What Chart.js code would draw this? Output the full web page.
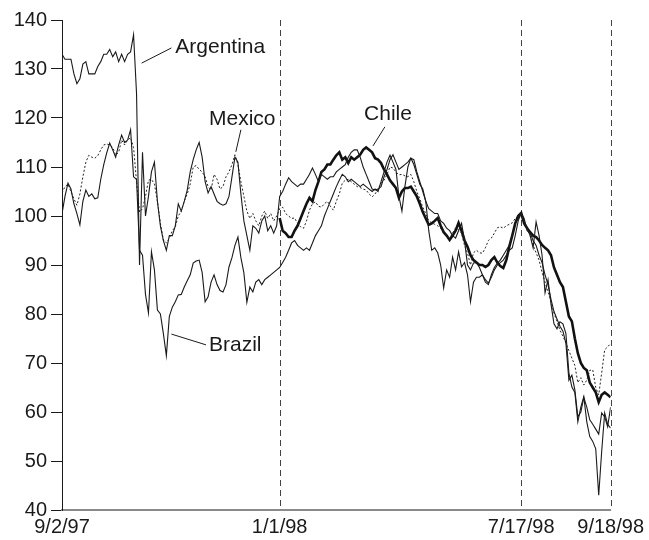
<!DOCTYPE html>
<html>
<head>
<meta charset="utf-8">
<script src="https://cdn.jsdelivr.net/npm/chart.js@4.4.0/dist/chart.umd.min.js"></script>
<style>
  body { margin: 0; background: #fff; }
  #wrap { width: 649px; height: 540px; }
</style>
</head>
<body>
<div id="wrap"><canvas id="chart" width="649" height="540"></canvas></div>
<script>
// trading-day index of each dated marker, and its label
const dateIdx = [0, 73, 154, 184];
const dateLabels = ['9/2/97', '1/1/98', '7/17/98', '9/18/98'];
const yTicks = [40, 50, 60, 70, 80, 90, 100, 110, 120, 130, 140];

// stock indices, 7/17/98 = 100
const argentina = [
  133, 132, 132, 132, 129, 127, 128, 131, 131.5, 129, 129, 129, 130.5, 131.5, 133, 133, 134, 132.5, 133.5, 131.5, 133, 131.5, 133, 133.5, 137,
  125, 90, 113, 100, 104, 109, 111, 103, 98, 95, 93, 96, 96, 98, 102.5, 101, 103, 105.3, 109, 111.5, 113.5, 115, 112, 107, 104.7, 106, 104.5, 103, 102.5, 102.2,
  102.5, 104, 108, 112, 111, 104.5, 99, 96, 93, 98, 97.5, 96.5, 99, 100, 97, 98, 96.5, 98,
  104, 105, 106.5, 107.8, 107, 106.5, 106, 106.5, 106.5, 107.5, 108.5, 109.8, 108.5, 107, 108.5, 108, 107.5, 108, 108, 109, 109.5, 110, 110.5, 112, 113,
  113.5, 113.5, 112, 110, 108.5, 107, 105.5, 105.3, 105.5, 106, 108, 109.5, 111.5, 112.5, 111, 109.5, 110, 110.5, 111, 111.8, 110.5, 108.5, 106.5, 105.5, 103,
  101.5, 101, 100.5, 100.5, 99, 98.5, 97.5, 97, 96, 95.5, 97, 98.5, 95, 90, 89, 90.4, 90.5, 89.5, 88, 86.5, 86, 88, 89.5, 90.4, 91,
  92, 93, 94, 96, 98.6, 99.5, 100.5,
  98.6, 97.5, 96, 93.5, 98.8, 96, 92, 84.3, 87, 82, 78, 77, 78.4, 78, 76, 68, 65.1, 64, 58, 61, 63.1, 58, 55, 54, 52.5, 43, 52, 59.8, 57.5, 56.7
];
const brazil = [
  100.5, 104, 106.7, 105.5, 102.5, 100.5, 98.2, 103, 105.3, 104, 104.5, 103.5, 103.7, 107.5, 110.5, 112.9, 114.9, 113.5, 112, 114.5, 116.5, 115, 115.5, 117.6, 108,
  107.5, 93, 92, 84, 80.2, 92.7, 89, 80.8, 80, 76, 71.5, 79.5, 81.4, 82.5, 83.9, 84, 85.5, 86.8, 88, 90.4, 90.8, 91, 88.5, 82.5, 83.5,
  86.5, 88, 86, 84.8, 84.5, 86, 89.6, 91.5, 94, 95.7, 91.5, 88.4, 82.4, 85.5, 84.5, 86.5, 87, 86, 87, 87.5, 88, 88.5, 89,
  89.5, 90.5, 91.6, 93, 94.5, 95, 94, 93.5, 93, 93.5, 93, 94.5, 96, 97, 98, 100, 101.5, 103, 104.5, 106, 107.3, 108.5, 108, 107, 107.5,
  107, 106.5, 106, 106.5, 106, 105.5, 105, 105.5, 105, 107, 109, 111, 112.4, 111, 109.5, 104, 101, 106, 110, 111.8, 111.5, 109, 107, 105, 103,
  97, 93, 93.5, 92.5, 90, 85.3, 89, 87.5, 91.6, 89, 92.7, 89.6, 90.5, 88, 82.5, 86.5, 87.5, 87.5, 88, 87, 86.3, 87.5, 89, 90, 90.5,
  91, 92, 93, 93.5, 96, 99, 100.6,
  99.5, 97, 96.5, 95, 94, 92, 90.5, 88, 86, 83, 80.5, 79, 77.5, 76.5, 74, 66.5, 67.5, 64.5, 59, 60, 63, 61, 58.4, 57.5, 56.5, 55.5, 59.8, 59, 57, 61
];
const mexico = [
  104.7, 106, 106.5, 105, 103.5, 102.2, 104.5, 108, 111, 112.4, 112, 111.8, 112.3, 113.5, 114.5, 114.7, 114.5, 114, 112.4, 113, 115.5, 114.5, 115.5, 116, 114,
  107, 100.8, 101.5, 104, 107.3, 107.5, 106.5, 103, 98.5, 95.1, 94.5, 95.5, 97, 97.8, 100, 101, 103, 104.5, 106.5, 110, 110.3, 109.5, 109, 108, 106,
  105.3, 108.5, 107.5, 105.5, 106, 108, 109, 110.5, 112.5, 110.5, 107, 104, 101, 99.5, 100.5, 99, 98, 100, 101, 99.5, 100.5, 99, 100,
  101.5, 101.8, 100.5, 100, 99.5, 99.6, 98.5, 97.8, 97.5, 99, 101.2, 102.5, 102.9, 102, 101.8, 102.5, 103, 102, 101.2, 103, 104.5, 106.7, 107.3, 107.5, 107,
  106.5, 106, 105.8, 105.5, 105.3, 104.5, 103.9, 104.5, 105.5, 106.7, 107.3, 108.5, 110, 109.8, 109, 108.4, 108.5, 108.2, 108, 108.5, 107, 105, 103.5, 101.8, 100.5,
  99, 98.6, 98.3, 98, 97.5, 96.7, 96, 95.5, 96.5, 97.6, 97.2, 96.5, 94, 92.4, 90, 92.5, 93, 92.5, 92.4, 93.5, 95, 95.5, 96.5, 97.6, 97.8,
  97.5, 98, 98.3, 98.6, 99.5, 100,
  100.2, 99, 97.5, 96, 94, 92.5, 91, 88.5, 86.5, 84.5, 82.5, 80.2, 78.5, 76.7, 75.5, 74.1, 72.5, 71, 69.5, 66, 67, 65.5, 66.5, 68.5, 68.6, 65, 63.5, 68, 72.7, 73.3, 74
];
// Chile starts on 1/1/98
const chile = [
  99.6, 97, 96.5, 95.7, 95.7, 97, 98, 99.5, 101, 102.5, 103.7, 103, 105.3, 107, 109, 109.5, 110.5, 110.5, 111.5, 112.4,
  113, 111.5, 112, 110.8, 112, 111.5, 112, 112.5, 113.5, 114, 113.5, 113, 111.8, 111.5, 110.8, 109.5, 108.5, 107.3, 106.5, 105.7,
  103.7, 105, 105.7, 105.7, 106, 105, 104, 102.5, 100.8, 99.5, 98.2, 98.5, 99, 99.6, 98, 96.7, 96, 95.1, 96, 97,
  98.6, 97, 95, 93.7, 92, 91, 90.5, 90, 90, 89.6, 90, 91, 91.6, 90.5, 89.8, 89.4, 91, 93.7, 96, 98.5, 100, 100.6,
  98.5, 97.5, 96.7, 96, 95.7, 95, 94.1, 93.5, 93, 92, 89.5, 88, 86.5, 85.5, 82.5, 79.5, 78.5, 75, 72, 70,
  69, 68.5, 66, 65, 64, 62, 63.5, 64, 63.5, 63
];

// series name labels: text position and leader line, in data units [index, value]
const notes = [
  { text: 'Argentina', at: [38, 134.5], from: [26.7, 131.2], to: [36.7, 134.3] },
  { text: 'Mexico', at: [49.3, 119.8], from: [60, 117.6], to: [58.3, 113.1] },
  { text: 'Chile', at: [101.3, 120.8], from: [108.3, 118.2], to: [104.3, 114.3] },
  { text: 'Brazil', at: [49.3, 73.7], from: [36.7, 75.9], to: [48.3, 73.7] }
];

const FONT = "'Liberation Sans', Arial, Helvetica, sans-serif";
const INK = '#1a1a1a';
const toPts = (arr, start) => arr.map((v, i) => ({ x: i + start, y: v }));

const markers = {
  id: 'markers',
  beforeDatasetsDraw(chart) {
    const { ctx, chartArea, scales: { x } } = chart;
    ctx.save();
    ctx.strokeStyle = '#444';
    ctx.lineWidth = 1;
    ctx.setLineDash([6, 4]);
    dateIdx.slice(1).forEach(v => {
      const px = Math.round(x.getPixelForValue(v)) + 0.5;
      ctx.beginPath();
      ctx.moveTo(px, chartArea.top);
      ctx.lineTo(px, chartArea.bottom);
      ctx.stroke();
    });
    ctx.restore();
  },
  afterDatasetsDraw(chart) {
    const { ctx, scales: { x, y } } = chart;
    ctx.save();
    ctx.strokeStyle = INK;
    ctx.fillStyle = INK;
    ctx.lineWidth = 1;
    ctx.font = '21px ' + FONT;
    ctx.textAlign = 'left';
    ctx.textBaseline = 'middle';
    notes.forEach(n => {
      ctx.beginPath();
      ctx.moveTo(x.getPixelForValue(n.from[0]), y.getPixelForValue(n.from[1]));
      ctx.lineTo(x.getPixelForValue(n.to[0]), y.getPixelForValue(n.to[1]));
      ctx.stroke();
      ctx.fillText(n.text, x.getPixelForValue(n.at[0]), y.getPixelForValue(n.at[1]));
    });
    ctx.restore();
  }
};

new Chart(document.getElementById('chart'), {
  type: 'line',
  data: {
    datasets: [
      { label: 'Mexico', data: toPts(mexico, 0), borderColor: '#222', borderWidth: 1, borderDash: [2, 2] },
      { label: 'Argentina', data: toPts(argentina, 0), borderColor: INK, borderWidth: 1.1 },
      { label: 'Brazil', data: toPts(brazil, 0), borderColor: INK, borderWidth: 1.1 },
      { label: 'Chile', data: toPts(chile, dateIdx[1]), borderColor: '#111', borderWidth: 2.6 }
    ]
  },
  options: {
    responsive: false,
    animation: false,
    elements: {
      point: { radius: 0 },
      line: { tension: 0, fill: false }
    },
    layout: { padding: { top: 20, right: 35, left: 0, bottom: 0 } },
    plugins: { legend: { display: false }, tooltip: { enabled: false } },
    scales: {
      x: {
        type: 'linear', min: 0, max: 184,
        afterBuildTicks: s => { s.ticks = dateIdx.map(v => ({ value: v })); },
        afterFit: s => { s.height = 30; },
        grid: { display: false, drawTicks: false },
        border: { display: true, color: '#8a8a8a', width: 2 },
        ticks: {
          color: INK, font: { family: FONT, size: 20 }, padding: 5,
          maxRotation: 0, autoSkip: false,
          callback: (v, i) => dateLabels[i]
        }
      },
      y: {
        min: 40, max: 140,
        afterBuildTicks: s => { s.ticks = yTicks.map(v => ({ value: v })); },
        afterFit: s => { s.width = 62; },
        grid: { drawOnChartArea: false, drawTicks: true, tickLength: 11, color: INK, lineWidth: 1 },
        border: { display: true, color: INK, width: 1 },
        ticks: { color: INK, font: { family: FONT, size: 20 }, padding: 4 }
      }
    }
  },
  plugins: [markers]
});
</script>
</body>
</html>
